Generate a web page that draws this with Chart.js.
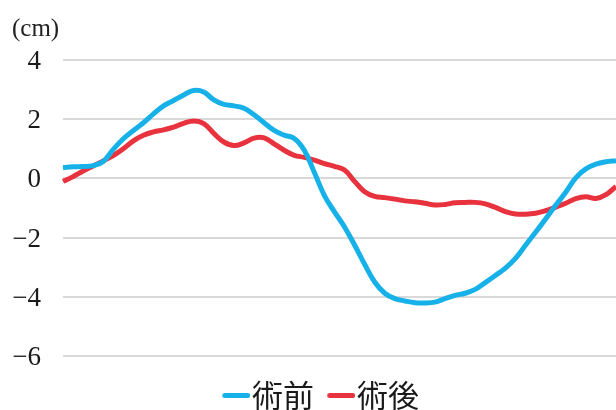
<!DOCTYPE html>
<html lang="ja">
<head>
    <meta charset="UTF-8">
    <title>術前・術後</title>
    <script src="https://cdn.jsdelivr.net/npm/chart.js"></script>
    <style>
        body {
            margin: 0;
            padding: 0;
            background-color: #fff;
        }

        /* the canvas runs a little past the bottom edge, legend text gets cut */
        .chart-box {
            position: relative;
            width: 616px;
            height: 410px;
            overflow: hidden;
        }
    </style>
</head>
<body>
    <div class="chart-box">
        <canvas id="shiftChart" width="616" height="421"></canvas>
    </div>

    <script>
        // sample positions along the gait cycle (not labelled on the chart)
        const samples = Array.from({ length: 56 }, (_, i) => i + 1);

        // 術前 (cm)
        const preOp = [
            0.37, 0.39, 0.40, 0.43, 0.57, 0.98, 1.34, 1.62, 1.88, 2.18,
            2.45, 2.63, 2.82, 2.97, 2.92, 2.65, 2.50, 2.45, 2.37, 2.15,
            1.88, 1.62, 1.46, 1.35, 0.95, 0.20, -0.58, -1.13, -1.64, -2.25,
            -2.90, -3.50, -3.88, -4.06, -4.14, -4.20, -4.21, -4.18, -4.06, -3.95,
            -3.88, -3.75, -3.52, -3.28, -3.03, -2.70, -2.26, -1.82, -1.37, -0.91,
            -0.47, 0.02, 0.32, 0.48, 0.56, 0.60
        ];

        // 術後 (cm)
        const postOp = [
            -0.10, 0.06, 0.25, 0.42, 0.59, 0.77, 1.00, 1.27, 1.46, 1.57,
            1.64, 1.73, 1.86, 1.94, 1.85, 1.52, 1.23, 1.11, 1.20, 1.36,
            1.37, 1.17, 0.95, 0.78, 0.71, 0.62, 0.50, 0.41, 0.28, -0.10,
            -0.45, -0.61, -0.65, -0.70, -0.76, -0.79, -0.84, -0.90, -0.88, -0.82,
            -0.81, -0.81, -0.86, -0.98, -1.12, -1.20, -1.21, -1.18, -1.09, -0.97,
            -0.84, -0.68, -0.62, -0.68, -0.55, -0.27
        ];

        const yTicks = [4, 2, 0, -2, -4, -6];

        const BLUE = '#16b1e8';
        const RED = '#e8323e';

        // short rounded stroke used as the legend marker, sitting right next to the text
        function legendStroke(color) {
            const c = document.createElement('canvas');
            c.width = 55;
            c.height = 7;
            const g = c.getContext('2d');
            g.strokeStyle = color;
            g.lineWidth = 5;
            g.lineCap = 'round';
            g.beginPath();
            g.moveTo(29.5, 3.5);
            g.lineTo(52.5, 3.5);
            g.stroke();
            return c;
        }

        const ctx = document.getElementById('shiftChart').getContext('2d');
        new Chart(ctx, {
            type: 'line',
            data: {
                labels: samples,
                datasets: [{
                    label: '術前',
                    data: preOp,
                    borderColor: BLUE,
                    backgroundColor: BLUE,
                    borderWidth: 5,
                    pointRadius: 0,
                    pointStyle: legendStroke(BLUE),
                    tension: 0.4,
                    fill: false
                }, {
                    label: '術後',
                    data: postOp,
                    borderColor: RED,
                    backgroundColor: RED,
                    borderWidth: 5,
                    pointRadius: 0,
                    pointStyle: legendStroke(RED),
                    tension: 0.4,
                    fill: false
                }]
            },
            options: {
                responsive: false,
                animation: false,
                layout: {
                    padding: { left: 12, right: 0, top: 0, bottom: 0 }
                },
                plugins: {
                    title: {
                        display: true,
                        text: '(cm)',
                        align: 'start',
                        color: '#222',
                        font: { family: "'Liberation Serif', serif", size: 25, weight: 'normal' },
                        padding: { top: 14, bottom: 16 }
                    },
                    legend: {
                        position: 'bottom',
                        title: {
                            display: true,
                            text: '',
                            font: { size: 10 },
                            padding: { top: 12, bottom: 0 }
                        },
                        labels: {
                            usePointStyle: true,
                            pointStyleWidth: 27.5,
                            padding: 0,
                            color: '#1a1a1a',
                            font: { family: "'Noto Sans CJK JP', sans-serif", size: 31 }
                        }
                    },
                    tooltip: { enabled: false }
                },
                scales: {
                    x: {
                        display: false,
                        offset: false
                    },
                    y: {
                        min: -6,
                        max: 4,
                        afterBuildTicks: scale => {
                            scale.ticks = yTicks.map(v => ({ value: v }));
                        },
                        afterFit: scale => {
                            scale.width = 51;
                        },
                        border: { display: false },
                        grid: {
                            color: '#d9d9d9',
                            lineWidth: 2,
                            drawTicks: false
                        },
                        ticks: {
                            padding: 22,
                            labelOffset: 2,
                            color: '#1a1a1a',
                            font: { family: "'Liberation Serif', serif", size: 27 },
                            callback: v => (v < 0 ? '\u2212' + Math.abs(v) : String(v))
                        }
                    }
                }
            }
        });
    </script>
</body>
</html>
